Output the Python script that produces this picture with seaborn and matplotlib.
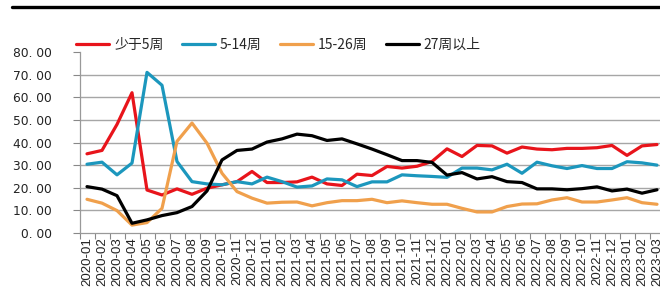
import matplotlib
matplotlib.use("Agg")
import matplotlib.pyplot as plt
import seaborn as sns
import pandas as pd
import numpy as np
from matplotlib.lines import Line2D
from matplotlib.ticker import FixedLocator, FuncFormatter

months = [f"{y}-{m:02d}" for y in (2020, 2021, 2022) for m in range(1, 13)] + ["2023-01", "2023-02", "2023-03"]

lt5 = [35.0, 36.5, 48.0, 62.0, 19.0, 16.8, 19.5, 17.1, 19.8, 21.3, 22.7, 27.2, 22.3, 22.3, 22.6, 24.7,
       21.7, 21.0, 26.0, 25.4, 29.4, 28.7, 29.5, 31.6, 37.2, 33.8, 38.7, 38.5, 35.3, 38.0, 37.1, 36.8,
       37.4, 37.4, 37.7, 38.7, 34.3, 38.5, 39.1]
w5_14 = [30.4, 31.3, 25.7, 30.9, 71.0, 65.3, 31.6, 22.7, 21.7, 21.3, 22.7, 21.7, 24.7, 22.7, 20.3, 20.8,
         23.9, 23.5, 20.5, 22.6, 22.6, 25.7, 25.3, 25.0, 24.6, 28.7, 28.7, 27.9, 30.4, 26.4, 31.3, 29.7,
         28.5, 29.8, 28.5, 28.5, 31.5, 31.0, 30.0]
w15_26 = [14.9, 13.2, 9.9, 3.5, 4.6, 10.9, 40.5, 48.6, 39.7, 26.4, 18.3, 15.4, 13.2, 13.6, 13.7, 12.0,
          13.4, 14.3, 14.3, 14.9, 13.4, 14.2, 13.4, 12.7, 12.7, 10.9, 9.3, 9.3, 11.7, 12.8, 12.9, 14.6,
          15.6, 13.7, 13.7, 14.6, 15.6, 13.4, 12.7]
w27p = [20.5, 19.4, 16.5, 4.3, 5.8, 7.7, 9.0, 11.7, 18.6, 32.3, 36.5, 37.1, 40.2, 41.6, 43.7, 43.0,
        40.9, 41.6, 39.4, 37.1, 34.6, 32.0, 32.0, 31.2, 25.6, 26.7, 23.9, 24.9, 22.7, 22.3, 19.5, 19.5,
        19.1, 19.6, 20.4, 18.6, 19.4, 17.6, 19.1]

series_names = ["少于5周", "5-14周", "15-26周", "27周以上"]
series_vals = [lt5, w5_14, w15_26, w27p]
colors = ["#E8141B", "#1C97BD", "#F0A04C", "#000000"]
yticks = [0, 10, 20, 30, 40, 50, 60, 70, 80]

rows = []
for name, vals in zip(series_names, series_vals):
    for i, v in enumerate(vals):
        rows.append({"idx": i, "value": v, "series": name})
df = pd.DataFrame(rows)

sns.set_theme(style="white")
plt.rcParams["font.family"] = ["Noto Sans CJK SC", "DejaVu Sans"]

fig = plt.figure(figsize=(6.6, 2.88), dpi=100)
n = len(months)
left_px, right_px = 79.5, 79.5 + 15 * n
ax = fig.add_axes([left_px / 660, (288 - 233) / 288, (right_px - left_px) / 660, 181 / 288])

sns.lineplot(data=df, x="idx", y="value", hue="series", hue_order=series_names,
             palette=colors, linewidth=2.3, ax=ax, legend=False)

ax.set_xlim(-0.5, n - 0.5)
ax.set_ylim(0, 80)
ax.set_xlabel("")
ax.set_ylabel("")

# grid lines 10..70
for y in yticks[1:-1]:
    ax.axhline(y, color="#A6A6A6", linewidth=1.0, zorder=0)

ax.set_yticks(yticks)
ax.set_yticklabels([f"{v:.0f}. 00" for v in yticks], family="DejaVu Sans", fontsize=8.8, color="#222222")
ax.tick_params(axis="y", which="major", left=True, length=5, width=0.8, color="#888888", pad=15)

# x ticks: boundaries (major, unlabeled), centers (minor, labeled)
ax.xaxis.set_major_locator(FixedLocator(np.arange(-0.5, n, 1.0)))
ax.xaxis.set_major_formatter(FuncFormatter(lambda x, p: ""))
ax.xaxis.set_minor_locator(FixedLocator(np.arange(0, n)))
ax.xaxis.set_minor_formatter(FuncFormatter(lambda x, p: months[int(round(x))] if 0 <= int(round(x)) < n else ""))
ax.tick_params(axis="x", which="major", bottom=True, length=4, width=0.8, color="#888888")
ax.tick_params(axis="x", which="minor", bottom=True, length=0, pad=3, labelsize=9.5, labelrotation=90)
for lbl in ax.get_xticklabels(minor=True):
    lbl.set_family("Liberation Sans")
    lbl.set_color("#222222")

for s in ["top", "right"]:
    ax.spines[s].set_visible(False)
for s in ["left", "bottom"]:
    ax.spines[s].set_color("#999999")
    ax.spines[s].set_linewidth(0.9)

handles = [Line2D([0], [0], color=c, linewidth=2.3) for c in colors]
fig.legend(handles, series_names, loc="center left", bbox_to_anchor=(76 / 660, 1 - 45 / 288),
           ncol=4, frameon=False, fontsize=10, handlelength=2.4, handletextpad=0.35,
           columnspacing=1.3, borderaxespad=0, borderpad=0)

# top decorative rule
fig.add_artist(Line2D([12 / 660, 1.0], [1 - 6.5 / 288, 1 - 6.5 / 288], color="black", linewidth=2.4,
                      transform=fig.transFigure))

fig.savefig("out.png", dpi=100)
